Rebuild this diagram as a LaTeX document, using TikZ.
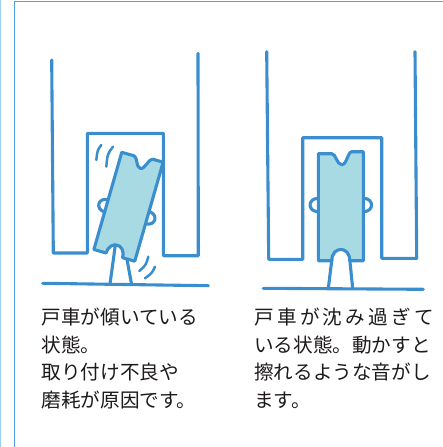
\documentclass[tikz,border=0pt]{standalone}
\usepackage{fontspec}
\newfontfamily\jpfont{Noto Sans CJK JP}
\usepackage{tikz}

\definecolor{railblue}{RGB}{58,142,206}
\definecolor{carfill}{RGB}{168,218,228}
\definecolor{framemid}{RGB}{78,163,227}
\definecolor{framefaint}{RGB}{160,208,240}
\definecolor{inkgray}{RGB}{30,26,26}

% door car: body with notches, side wheels at height #1
\newcommand{\doorcar}[1]{%
  \draw[body] (-22.5,-53) -- (-9,-53) .. controls (-5,-53) and (-4,-42) .. (1,-42)
    .. controls (6,-42) and (7,-55) .. (11,-55) -- (22.5,-55) -- (22.5,54) -- (9,54)
    .. controls (9,39) and (-9,39) .. (-9,54) -- (-22.5,54) -- cycle;
  \draw[stroke] (-22.5,#1-6.7) .. controls (-33.5,#1-6.7) and (-33.5,#1+6.7) .. (-22.5,#1+6.7);
  \draw[stroke] (22.5,#1-6.7) .. controls (33.5,#1-6.7) and (33.5,#1+6.7) .. (22.5,#1+6.7);
}

\begin{document}
\begin{tikzpicture}[x=1pt,y=-1pt,
  stroke/.style={draw=railblue,line width=3.1pt,line cap=round,line join=round},
  body/.style={stroke,fill=carfill},
  shake/.style={draw=railblue,line width=2.5pt,line cap=round},
  caption/.style={anchor=base west,inner sep=0pt,text=inkgray,
    font=\jpfont\fontsize{19.6pt}{24pt}\selectfont}]

\useasboundingbox (0,0) rectangle (443,447);

% frame
\draw[framefaint,line width=1.2pt] (0.6,0) -- (0.6,447);
\draw[framemid,line width=1.4pt] (14.6,447) -- (14.6,1.6) -- (443,1.6);

% tilted car
\draw[stroke] (51.7,60) -- (53.3,253) -- (87.3,253) -- (87.3,133.3) -- (163.3,133.3)
  -- (163.3,255.7) -- (198.3,255.7) -- (198,53.3);
\draw[stroke] (42.7,283.3) -- (208.3,285.7);
\draw[stroke] (115.2,246) -- (110,284);
\draw[stroke] (126,254) -- (131.5,284);

\begin{scope}[shift={(128.4,206.3)},rotate=-16,scale=0.945]
  \doorcar{6}
\end{scope}

\draw[shake] (101.3,145) .. controls (97.5,150) .. (96.3,160);
\draw[shake] (113,146.7) .. controls (107.5,154) .. (106.3,166.7);
\draw[shake] (148.3,256.7) .. controls (146,265) .. (139.3,271);
\draw[shake] (155,266.7) .. controls (152,273) .. (145,278.3);

% sunken car
\draw[stroke] (266.7,51.7) -- (268.7,259.3) -- (302.7,259.3) -- (302.7,137.7) -- (381.7,137.7)
  -- (381.7,258.3) -- (416.7,258.3) -- (415,51.7);
\draw[stroke] (263.3,288.3) -- (423.3,289.3);
\draw[stroke] (331.9,259) -- (328.3,288.5);
\draw[stroke] (349.7,259) -- (352.7,288.5);

\begin{scope}[shift={(340.8,206.7)}]
  \doorcar{-1.7}
\end{scope}

% captions
\node[caption] (tilt1) at (41.5,324.2) {戸車が傾いている};
\node[caption] (tilt2) at (41.5,352) {状態。};
\node[caption] (tilt3) at (41.5,379.8) {取り付け不良や};
\node[caption] (tilt4) at (41.5,407.6) {磨耗が原因です。};

\node[caption] (sink1) at (254,324.2)
  {\makebox[180pt]{戸\hfill 車\hfill が\hfill 沈\hfill み\hfill 過\hfill ぎ\hfill て}};
\node[caption] (sink2) at (254,352) {いる状態。動かすと};
\node[caption] (sink3) at (254,379.8) {擦れるような音がし};
\node[caption] (sink4) at (254,407.6) {ます。};

\end{tikzpicture}
\end{document}
